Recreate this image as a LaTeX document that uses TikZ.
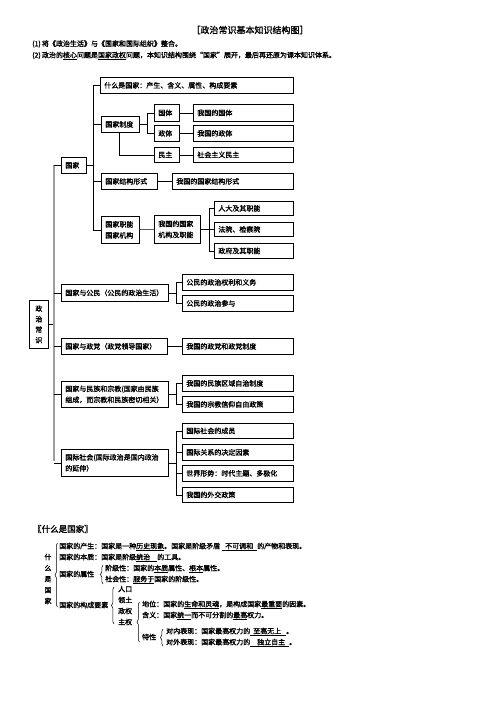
\documentclass[tikz,border=0pt]{standalone}
\usepackage{fontspec}
\setmainfont{Noto Sans CJK SC}[BoldFont={Noto Sans CJK SC}, BoldFeatures={FakeBold=1.6}]
\usetikzlibrary{decorations.pathreplacing}
\begin{document}
\begin{tikzpicture}[x=1pt,y=-1pt,
  bx/.style={draw, line width=0.7pt, anchor=north west, inner xsep=4pt, inner ysep=0pt,
    align=left, font=\bfseries\fontsize{7}{11}\selectfont},
  cbx/.style={bx, align=center},
  ln/.style={line width=0.6pt},
  trunk/.style={line width=1.3pt, gray!75},
  lt/.style={anchor=west, inner sep=0pt, font=\bfseries\fontsize{7}{8}\selectfont},
  br/.style={line width=0.5pt, decorate, decoration={brace, amplitude=2.5pt}}
]
\useasboundingbox (0,0) rectangle (496,702);

% header
\node[font=\bfseries\fontsize{9}{10}\selectfont] (title) at (250,30) {［政治常识基本知识结构图］};
\node[lt] (n1) at (32,44) {(1)\,将《政治生活》与《国家和国际组织》整合。};
\node[lt] (n2) at (32,56) {(2)\,政治的\underline{核心}问题是\underline{国家政权}问题，本知识结构围绕“国家”展开，最后再还原为课本知识体系。};

% boxes
\node[cbx, text width=11pt, minimum height=48pt, font=\bfseries\fontsize{7}{10.5}\selectfont] (root) at (29,300) {政\\治\\常\\识};
\node[bx, text width=17pt, minimum height=16pt] (guojia) at (61,157) {国家};
\node[bx, text width=185pt, minimum height=16pt] (b1) at (100,77) {什么是国家：产生、含义、属性、构成要素};
\node[bx, text width=30pt, minimum height=16pt] (zhidu) at (101,116) {国家制度};
\node[bx, text width=17pt, minimum height=17pt] (guoti) at (154,104) {国体};
\node[bx, text width=92pt, minimum height=17pt] (wgt) at (193,104) {我国的国体};
\node[bx, text width=17pt, minimum height=16pt] (zhengti) at (154,125) {政体};
\node[bx, text width=92pt, minimum height=16pt] (wzt) at (193,125) {我国的政体};
\node[bx, text width=17pt, minimum height=15pt] (minzhu) at (154,147) {民主};
\node[bx, text width=92pt, minimum height=15pt] (shmz) at (193,147) {社会主义民主};
\node[bx, text width=48pt, minimum height=16pt] (jgxs) at (101,173) {国家结构形式};
\node[bx, text width=113pt, minimum height=16pt] (wjgxs) at (172,173) {我国的国家结构形式};
\node[bx, text width=30pt, minimum height=27pt] (jigou) at (101,216) {国家职能\\国家机构};
\node[bx, text width=38pt, minimum height=28pt] (wjigou) at (154,215) {我国的国家\\机构及职能};
\node[bx, text width=71pt, minimum height=14pt] (rd) at (214,201) {人大及其职能};
\node[bx, text width=71pt, minimum height=14pt] (fy) at (214,222) {法院、检察院};
\node[bx, text width=71pt, minimum height=15pt] (zf) at (214,243) {政府及其职能};
\node[bx, text width=99pt, minimum height=17pt] (gm) at (61,284) {国家与公民（公民的政治生活）};
\node[bx, text width=103pt, minimum height=16pt] (gm1) at (182,274) {公民的政治权利和义务};
\node[bx, text width=103pt, minimum height=16pt] (gm2) at (182,295) {公民的政治参与};
\node[bx, text width=98pt, minimum height=16pt] (zd) at (61,338) {国家与政党（政党领导国家）};
\node[bx, text width=103pt, minimum height=16pt] (zd1) at (182,338) {我国的政党和政党制度};
\node[bx, text width=99pt, minimum height=26pt] (mz) at (61,381) {国家与民族和宗教(国家由民族\\组成，而宗教和民族密切相关）};
\node[bx, text width=103pt, minimum height=16pt] (mz1) at (182,375) {我国的民族区域自治制度};
\node[bx, text width=103pt, minimum height=16pt] (mz2) at (182,396) {我国的宗教信仰自由政策};
\node[bx, text width=99pt, minimum height=27pt] (gj) at (61,449) {国际社会(国际政治是国内政治\\的延伸）};
\node[bx, text width=103pt, minimum height=15pt] (gj1) at (182,423) {国际社会的成员};
\node[bx, text width=103pt, minimum height=16pt] (gj2) at (182,444) {国际关系的决定因素};
\node[bx, text width=103pt, minimum height=16pt] (gj3) at (182,465) {世界形势：时代主题、多极化};
\node[bx, text width=103pt, minimum height=15pt] (gj4) at (182,487) {我国的外交政策};

% connectors
\coordinate (T) at (54,0);
\coordinate (A) at (93,0);
\coordinate (B) at (147,0);
\coordinate (C) at (209,0);
\coordinate (D) at (176,0);

\draw[ln] (root.east) -- (root.east -| T);
\draw[trunk] (guojia.west -| T) -- ([yshift=2pt]gj.west -| T);
\foreach \n in {guojia,gm,zd,mz,gj} \draw[ln] (\n.west -| T) -- (\n.west);

\draw[ln] (guojia.east) -- (guojia.east -| A);
\draw[ln] (b1.west -| A) -- (jigou.west -| A);
\foreach \n in {b1,zhidu,jgxs,jigou} \draw[ln] (\n.west -| A) -- (\n.west);

\draw[ln] (zhidu.east) -- (zhidu.east -| B);
\draw[ln] (guoti.west -| B) -- (zhengti.west -| B);
\foreach \n in {guoti,zhengti} \draw[ln] (\n.west -| B) -- (\n.west);
\draw[ln] ([xshift=-1pt]zhidu.south) |- (minzhu.west);

\draw[ln] (guoti) -- (wgt);
\draw[ln] (zhengti) -- (wzt);
\draw[ln] (minzhu) -- (shmz);
\draw[ln] (jgxs) -- (wjgxs);
\draw[ln] (jigou) -- (wjigou);
\draw[ln] (zd) -- (zd1);

\draw[ln] (wjigou.east) -- (wjigou.east -| C);
\draw[ln] (rd.west -| C) -- (zf.west -| C);
\foreach \n in {rd,fy,zf} \draw[ln] (\n.west -| C) -- (\n.west);

\draw[ln] (gm.east) -- (gm.east -| D);
\draw[ln] (gm1.west -| D) -- (gm2.west -| D);
\foreach \n in {gm1,gm2} \draw[ln] (\n.west -| D) -- (\n.west);

\draw[ln] (mz.east) -- (mz.east -| D);
\draw[ln] (mz1.west -| D) -- (mz2.west -| D);
\foreach \n in {mz1,mz2} \draw[ln] (\n.west -| D) -- (\n.west);

\draw[ln] (gj.east) -- (gj.east -| D);
\draw[ln] (gj1.west -| D) -- (gj4.west -| D);
\foreach \n in {gj1,gj2,gj3,gj4} \draw[ln] (\n.west -| D) -- (\n.west);

% lower section
\node[lt, font=\bfseries\fontsize{8.5}{9}\selectfont] (sec) at (33,529) {〖什么是国家〗};
\node[inner sep=0pt, align=center, font=\bfseries\fontsize{7}{11}\selectfont] (vt) at (48,579) {什\\么\\是\\国\\家};
\draw[br] (57.5,607) -- (57.5,543);

\node[lt] (p1) at (59,547) {国家的产生：国家是一种\underline{历史现象}。国家是阶级矛盾\hspace{2pt}\underline{\hspace{3pt}不可调和\hspace{4pt}}的产物和表现。};
\node[lt] (p2) at (59,558) {国家的本质：国家是阶级\underline{统治\hspace{7pt}}的工具。};
\node[lt] (p3) at (59,574) {国家的属性};
\draw[br] (103,584) -- (103,565);
\node[lt] (p3a) at (105,569) {阶级性：国家的\underline{本质}属性、\underline{根本}属性。};
\node[lt] (p3b) at (105,580) {社会性：\underline{服务于}国家的阶级性。};
\node[lt] (p4) at (59,605) {国家的构成要素};
\draw[br] (114,624) -- (114,587);
\node[lt] (e1) at (118,589) {人口};
\node[lt] (e2) at (118,600) {领土};
\node[lt] (e3) at (118,611) {政权};
\node[lt] (e4) at (118,622) {主权};
\draw[br] (139.5,642) -- (139.5,602);
\node[lt] (s1) at (142,605) {地位：国家的\underline{生命和灵魂}，是构成国家\underline{最重要}的因素。};
\node[lt] (s2) at (142,616) {含义：国家\underline{统一}而不可分割的\underline{最高}权力。};
\node[lt] (s3) at (142,637) {特性};
\draw[br] (163,646) -- (163,629);
\node[lt] (t1) at (166,632) {对内表现：国家最高权力的\underline{\hspace{3pt}至高无上\hspace{5pt}}。};
\node[lt] (t2) at (166,643) {对外表现：国家最高权力的\underline{\hspace{7pt}独立自主\hspace{4pt}}。};
\end{tikzpicture}
\end{document}
